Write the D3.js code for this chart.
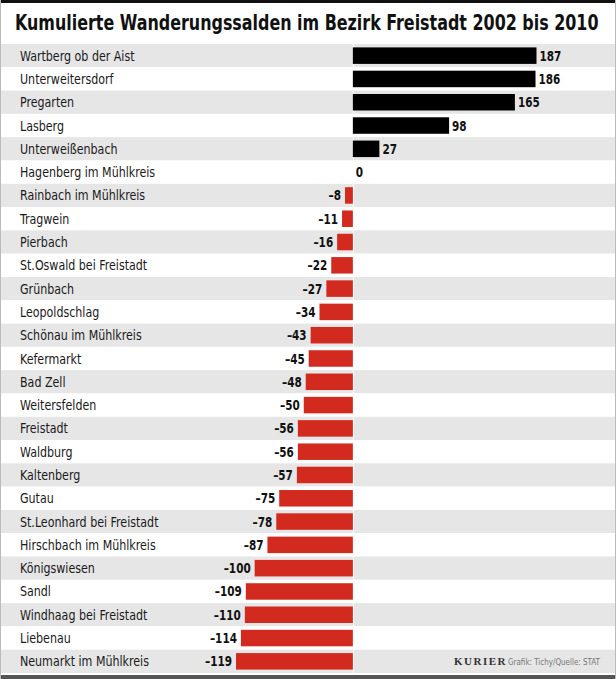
<!DOCTYPE html>
<html><head><meta charset="utf-8">
<script src="https://cdn.jsdelivr.net/npm/d3@7"></script>
<style>
html,body{margin:0;padding:0;background:#fff;}
svg{display:block;}
</style></head>
<body>
<svg id="chart" width="616" height="679"></svg>
<script>
const title = "Kumulierte Wanderungssalden im Bezirk Freistadt 2002 bis 2010";
const categories = ["Wartberg ob der Aist","Unterweitersdorf","Pregarten","Lasberg","Unterweißenbach","Hagenberg im Mühlkreis","Rainbach im Mühlkreis","Tragwein","Pierbach","St.Oswald bei Freistadt","Grünbach","Leopoldschlag","Schönau im Mühlkreis","Kefermarkt","Bad Zell","Weitersfelden","Freistadt","Waldburg","Kaltenberg","Gutau","St.Leonhard bei Freistadt","Hirschbach im Mühlkreis","Königswiesen","Sandl","Windhaag bei Freistadt","Liebenau","Neumarkt im Mühlkreis"];
const values = [187,186,165,98,27,0,-8,-11,-16,-22,-27,-34,-43,-45,-48,-50,-56,-56,-57,-75,-78,-87,-100,-109,-110,-114,-119];
const footerBrand = "KURIER";
const footerCredit = "Grafik: Tichy/Quelle: STAT";

const W = 616, H = 679;
const svg = d3.select("#chart");
const font = "'DejaVu Sans Condensed','DejaVu Sans',sans-serif";

svg.append("rect").attr("x",0).attr("y",0).attr("width",W).attr("height",H).attr("fill","#fff");

const y = d3.scaleBand().domain(categories).range([44, 673]).paddingInner(0).paddingOuter(0);
const x = d3.scaleLinear().domain([-119, 187]).range([236, 536.5]);

// row stripes
svg.append("g").selectAll("rect").data(categories).join("rect")
  .attr("x", 0).attr("width", W)
  .attr("y", d => y(d)).attr("height", y.bandwidth())
  .attr("fill", (d,i) => i % 2 === 0 ? "#e6e6e6" : "#ffffff");

// zero line (white separator)
svg.append("line").attr("x1", x(0)+0.5).attr("x2", x(0)+0.5)
  .attr("y1", 44).attr("y2", 673).attr("stroke","#fff").attr("stroke-width",1);

// borders
svg.append("rect").attr("x",0).attr("y",0).attr("width",W).attr("height",3).attr("fill","#111");
svg.append("rect").attr("x",0).attr("y",675).attr("width",W).attr("height",4).attr("fill","#555");
svg.append("rect").attr("x",0).attr("y",0).attr("width",1).attr("height",H).attr("fill","#bbb");
svg.append("rect").attr("x",W-1).attr("y",0).attr("width",1).attr("height",H).attr("fill","#bbb");

// title
const t = svg.append("text").attr("x", 0).attr("y", 0)
  .attr("font-family", font).attr("font-weight", "bold").attr("font-size", 21)
  .attr("fill", "#111")
  .text(title);
const tl = t.node().getComputedTextLength();
t.attr("transform", `translate(15,30) scale(${584/tl},1)`);

// bars
const barH = 16.5;
svg.append("g").selectAll("rect").data(values).join("rect")
  .attr("x", d => x(Math.min(0, d)))
  .attr("width", d => Math.abs(x(d) - x(0)))
  .attr("y", (d,i) => y(categories[i]) + (y.bandwidth() - barH)/2)
  .attr("height", barH)
  .attr("fill", d => d >= 0 ? "#000" : "#d22a1f");

// category labels
svg.append("g").selectAll("text").data(categories).join("text")
  .attr("transform", d => `translate(20,${y(d) + y.bandwidth()/2 + 5}) scale(0.85,1)`)
  .attr("font-family", font).attr("font-size", 14.5).attr("fill", "#1a1a1a")
  .text(d => d);

// value labels
svg.append("g").selectAll("text").data(values).join("text")
  .attr("transform", (d,i) => `translate(${d >= 0 ? x(d) + 3 : x(d) - 4},${y(categories[i]) + y.bandwidth()/2 + 5}) scale(0.8,1)`)
  .attr("text-anchor", d => d >= 0 ? "start" : "end")
  .attr("font-family", font).attr("font-weight","bold").attr("font-size", 14.5).attr("fill", "#111")
  .text(d => d < 0 ? "\u2013" + Math.abs(d) : String(d));

// footer
svg.append("text").attr("x", 454).attr("y", 665)
  .attr("font-family", "'Liberation Serif','DejaVu Serif',serif").attr("font-weight","bold")
  .attr("font-size", 11).attr("letter-spacing", 1.5).attr("fill", "#333")
  .text(footerBrand);
svg.append("text").attr("x", 508).attr("y", 665)
  .attr("font-family", font).attr("font-size", 9).attr("fill", "#777")
  .attr("textLength", 92).attr("lengthAdjust","spacingAndGlyphs")
  .text(footerCredit);
</script>
</body></html>
